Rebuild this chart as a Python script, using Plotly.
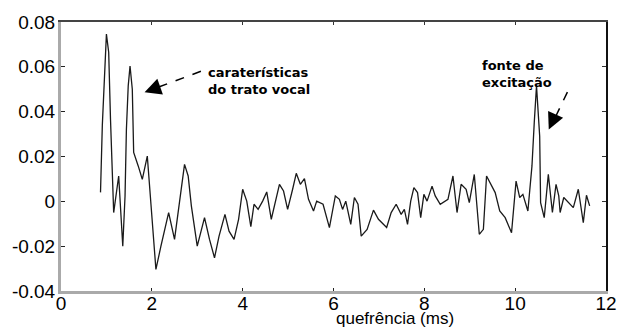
import plotly.graph_objects as go

quefrency_ms = [0.87, 0.91, 1.00, 1.05, 1.09, 1.16, 1.27, 1.36, 1.41, 1.44,
                1.48, 1.52, 1.57, 1.60, 1.70, 1.79, 1.90, 1.98, 2.09, 2.20,
                2.37, 2.50, 2.62, 2.72, 2.80, 2.87, 3.00, 3.16, 3.27, 3.38,
                3.48, 3.61, 3.70, 3.81, 3.91, 4.00, 4.09, 4.18, 4.25, 4.34,
                4.44, 4.53, 4.63, 4.72, 4.81, 4.90, 4.99, 5.10, 5.18, 5.27,
                5.36, 5.45, 5.56, 5.63, 5.77, 5.91, 6.04, 6.13, 6.20, 6.27,
                6.38, 6.46, 6.54, 6.61, 6.74, 6.88, 6.99, 7.17, 7.27, 7.38,
                7.49, 7.56, 7.63, 7.70, 7.77, 7.85, 7.92, 7.99, 8.06, 8.17,
                8.24, 8.35, 8.52, 8.63, 8.72, 8.81, 8.92, 8.99, 9.10, 9.21,
                9.30, 9.37, 9.49, 9.56, 9.66, 9.78, 9.92, 10.02, 10.10, 10.17,
                10.28, 10.37, 10.42, 10.47, 10.54, 10.56, 10.64, 10.73, 10.82, 10.90,
                10.96, 10.99, 11.07, 11.17, 11.28, 11.39, 11.50, 11.57, 11.64]

cepstrum = [0.004, 0.034, 0.0746, 0.0665, 0.0366, -0.005, 0.0113, -0.020, 0.0024, 0.032,
            0.0515, 0.0604, 0.050, 0.0218, 0.0158, 0.0098, 0.0202, -0.002, -0.0304, -0.020,
            -0.005, -0.017, 0.0024, 0.0165, 0.0113, -0.002, -0.020, -0.0073, -0.017, -0.0252,
            -0.0155, -0.0058, -0.0133, -0.017, -0.008, 0.0054, 0.0001, -0.0113, -0.0013, -0.0036,
            0.0001, 0.0042, -0.008, -0.0005, 0.0076, 0.0046, -0.0036, 0.0054, 0.0125, 0.0076,
            0.0101, 0.0009, -0.0043, 0.0001, -0.0013, -0.0117, 0.0024, 0.0009, -0.0036, 0.0001,
            -0.0103, 0.0017, -0.0013, -0.0155, -0.0125, -0.0039, -0.008, -0.0117, -0.005, -0.0013,
            -0.0058, -0.0036, -0.0103, 0.0001, 0.0061, 0.0039, -0.0073, 0.0031, 0.0001, 0.0068,
            0.0024, -0.0013, 0.0009, 0.0113, -0.005, 0.0076, 0.0054, -0.0006, 0.012, -0.0147,
            -0.0125, 0.0113, 0.0068, 0.0039, -0.0043, -0.0073, -0.014, 0.009, 0.0017, 0.0031,
            -0.0043, 0.0158, 0.035, 0.0515, 0.029, -0.0006, -0.0073, 0.012, -0.005, 0.0076,
            0.0024, -0.005, 0.0017, -0.0006, -0.0028, 0.0054, -0.0095, 0.0027, -0.002]

x_ticks = [0, 2, 4, 6, 8, 10, 12]
x_tick_labels = ["0", "2", "4", "6", "8", "10", "12"]
y_ticks = [-0.04, -0.02, 0, 0.02, 0.04, 0.06, 0.08]
y_tick_labels = ["-0.04", "-0.02", "0", "0.02", "0.04", "0.06", "0.08"]

FONT = "Arial, Liberation Sans, sans-serif"
BOLD = "DejaVu Sans, Arial, sans-serif"

fig = go.Figure()
fig.add_trace(go.Scatter(x=quefrency_ms, y=cepstrum, mode="lines",
                         line=dict(color="#1a1a1a", width=1.3), showlegend=False,
                         hoverinfo="skip"))
# invisible trace to anchor top/right axes
fig.add_trace(go.Scatter(x=[None], y=[None], xaxis="x2", yaxis="y2",
                         showlegend=False, hoverinfo="skip"))

fig.update_layout(
    width=629, height=329,
    margin=dict(l=55, r=13, t=21, b=38),
    paper_bgcolor="white", plot_bgcolor="white",
    font=dict(family=FONT, color="black"),
    xaxis=dict(range=[0, 12], tickvals=x_ticks, ticktext=x_tick_labels,
               ticks="inside", ticklen=3, tickcolor="#222", tickwidth=1,
               showline=True, linecolor="#aaaaaa", linewidth=3,
               ticklabelstandoff=-7,
               showgrid=False, zeroline=False, tickfont=dict(size=19)),
    yaxis=dict(range=[-0.04, 0.08], tickvals=y_ticks, ticktext=y_tick_labels,
               ticks="inside", ticklen=4, tickcolor="#222", tickwidth=1,
               showline=True, linecolor="#aaaaaa", linewidth=3,
               ticklabelstandoff=-1,
               showgrid=False, zeroline=False, tickfont=dict(size=19)),
    xaxis2=dict(range=[0, 12], tickvals=x_ticks, overlaying="x", side="top",
                ticks="inside", ticklen=3, tickcolor="#333", showticklabels=False,
                showline=True, linecolor="#444", linewidth=2,
                showgrid=False, zeroline=False),
    yaxis2=dict(range=[-0.04, 0.08], tickvals=y_ticks, overlaying="y", side="right",
                ticks="inside", ticklen=4, tickcolor="#333", showticklabels=False,
                showline=True, linecolor="#111", linewidth=2,
                showgrid=False, zeroline=False),
)

# dashed arrow shafts
fig.add_shape(type="line", x0=3.08, y0=0.0580, x1=1.95, y1=0.0495,
              line=dict(color="black", width=1.5, dash="dash"))
fig.add_shape(type="line", x0=11.15, y0=0.0487, x1=10.80, y1=0.0340,
              line=dict(color="black", width=1.5, dash="dash"))

# arrowheads
fig.add_annotation(x=1.84, y=0.0487, ax=14, ay=-5, text="", showarrow=True,
                   arrowhead=2, arrowsize=2.2, arrowwidth=1.5, arrowcolor="black")
fig.add_annotation(x=10.74, y=0.0321, ax=5, ay=-11, text="", showarrow=True,
                   arrowhead=2, arrowsize=2.2, arrowwidth=1.5, arrowcolor="black")

fig.add_annotation(xref="paper", yref="paper", x=0.364, y=0.848,
                   text="<b>caraterísticas<br>do trato vocal</b>", showarrow=False,
                   align="left", font=dict(family=BOLD, size=13, color="black"))
fig.add_annotation(xref="paper", yref="paper", x=0.904, y=0.874,
                   text="<b>fonte de<br>excitação</b>", showarrow=False,
                   align="left", font=dict(family=BOLD, size=13, color="black"))
fig.add_annotation(xref="paper", yref="paper", x=0.6125, y=-0.101,
                   text="quefrência (ms)", showarrow=False, yanchor="middle",
                   font=dict(family=FONT, size=17, color="black"))

fig.write_html("out.html", config={"displayModeBar": False},
               post_script="document.body.style.margin='0';document.body.style.padding='0';")
